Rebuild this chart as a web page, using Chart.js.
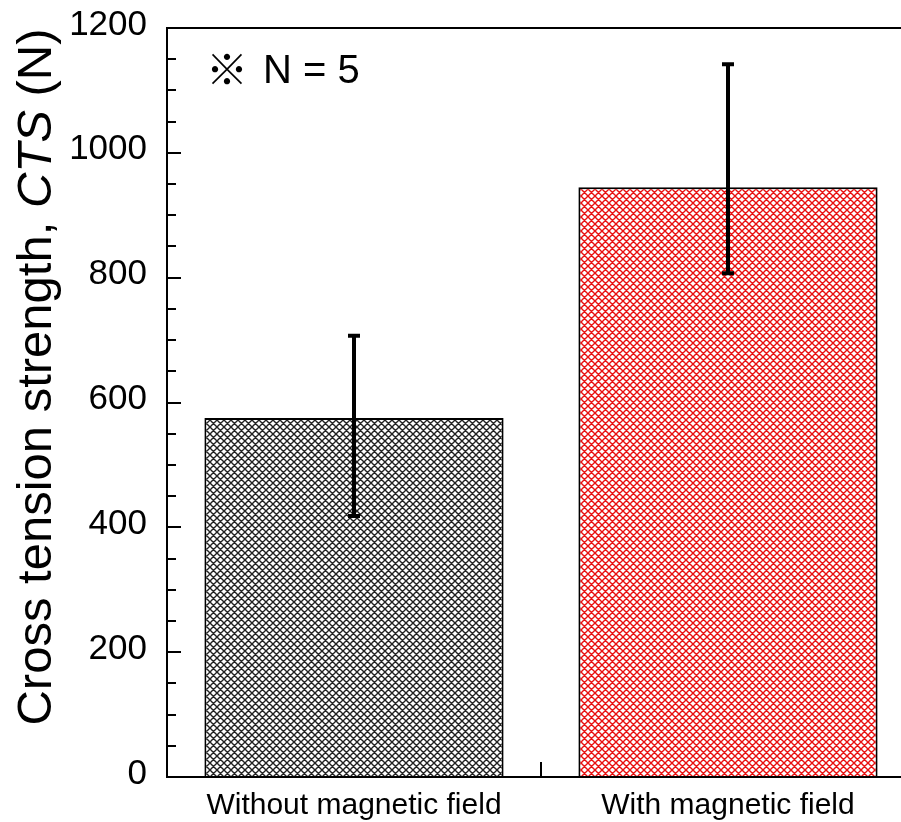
<!DOCTYPE html>
<html>
<head>
<meta charset="utf-8">
<script src="https://cdn.jsdelivr.net/npm/chart.js@4/dist/chart.umd.min.js"></script>
<style>
  html, body { margin: 0; padding: 0; background: #fff; overflow: hidden; width: 901px; height: 822px; }
  canvas { display: block; }
</style>
</head>
<body>
<canvas id="cts" width="930" height="822"></canvas>
<script>
// Cross tension strength of the joints, mean with min / max range (N = 5)
const categories = ['Without magnetic field', 'With magnetic field'];
const meanCTS = [575, 945];
const upperCTS = [707, 1142];
const lowerCTS = [418, 807];
const hatchColors = ['#222222', '#e81010'];

const yMin = 0;
const yMax = 1200;
const majorStep = 200;
const minorStep = 50;

const FONT = "'Liberation Sans', Arial, sans-serif";

const canvas = document.getElementById('cts');
const ctx = canvas.getContext('2d');

// Diagonal cross-hatch fill
function crossHatch(color) {
  const s = 7;
  const tile = document.createElement('canvas');
  tile.width = s; tile.height = s;
  const g = tile.getContext('2d');
  g.fillStyle = '#fff';
  g.fillRect(0, 0, s, s);
  g.strokeStyle = color;
  g.lineWidth = 1.4;
  g.beginPath();
  for (const k of [-s, 0, s]) {
    g.moveTo(k, 0); g.lineTo(k + s, s);
    g.moveTo(k + s, 0); g.lineTo(k, s);
  }
  g.stroke();
  return ctx.createPattern(tile, 'repeat');
}

function noPadding(s) {
  s.paddingTop = 0; s.paddingBottom = 0; s.paddingLeft = 0; s.paddingRight = 0;
}

const framePlugin = {
  id: 'frameAndDecor',
  afterDatasetsDraw(chart) {
    const { ctx, scales: { x, y } } = chart;
    ctx.save();
    // error bars
    ctx.strokeStyle = '#000';
    ctx.lineWidth = 4;
    ctx.lineCap = 'butt';
    for (let i = 0; i < categories.length; i++) {
      const cx = x.getPixelForValue(i);
      const yt = y.getPixelForValue(upperCTS[i]);
      const yb = y.getPixelForValue(lowerCTS[i]);
      ctx.beginPath();
      ctx.moveTo(cx, yt); ctx.lineTo(cx, yb);
      ctx.moveTo(cx - 6, yt); ctx.lineTo(cx + 6, yt);
      ctx.moveTo(cx - 6, yb); ctx.lineTo(cx + 6, yb);
      ctx.stroke();
    }
    ctx.restore();
  },
  afterDraw(chart) {
    const { ctx, chartArea: a, scales: { x, y } } = chart;
    ctx.save();
    ctx.strokeStyle = '#000';
    ctx.lineWidth = 2;
    ctx.strokeRect(a.left, a.top, a.right - a.left, a.bottom - a.top);

    // inward ticks on the value axis
    ctx.beginPath();
    for (let v = yMin; v <= yMax; v += minorStep) {
      const py = Math.round(y.getPixelForValue(v));
      const len = v % majorStep === 0 ? 14 : 9;
      ctx.moveTo(a.left, py); ctx.lineTo(a.left + len, py);
    }
    // tick between the two categories
    for (let i = 0; i < categories.length - 1; i++) {
      const px = Math.round((x.getPixelForValue(i) + x.getPixelForValue(i + 1)) / 2);
      ctx.moveTo(px, a.bottom); ctx.lineTo(px, a.bottom - 15);
    }
    ctx.stroke();

    // value axis title with italic symbol
    const parts = [
      { t: 'Cross tension strength, ', f: `49px ${FONT}` },
      { t: 'CTS', f: `italic 49px ${FONT}` },
      { t: ' (N)', f: `49px ${FONT}` }
    ];
    let total = 0;
    for (const p of parts) { ctx.font = p.f; p.w = ctx.measureText(p.t).width; total += p.w; }
    ctx.translate(51, 377);
    ctx.rotate(-Math.PI / 2);
    ctx.fillStyle = '#000';
    ctx.textBaseline = 'alphabetic';
    ctx.textAlign = 'left';
    let cx = -total / 2;
    for (const p of parts) { ctx.font = p.f; ctx.fillText(p.t, cx, 0); cx += p.w; }
    ctx.setTransform(1, 0, 0, 1, 0, 0);

    // sample size note
    ctx.fillStyle = '#000';
    ctx.textBaseline = 'alphabetic';
    ctx.textAlign = 'left';
    ctx.font = "42px 'Noto Sans CJK JP', 'DejaVu Sans', sans-serif";
    ctx.fillText('※', a.left + 39, a.top + 57);
    ctx.font = `40px ${FONT}`;
    ctx.fillText('N = 5', a.left + 96, a.top + 55);
    ctx.restore();
  }
};

new Chart(ctx, {
  type: 'bar',
  data: {
    labels: categories,
    datasets: [{
      data: meanCTS,
      backgroundColor: hatchColors.map(crossHatch),
      borderColor: '#000',
      borderWidth: 2,
      barPercentage: 0.8,
      categoryPercentage: 1.0
    }]
  },
  options: {
    responsive: false,
    animation: false,
    devicePixelRatio: 1,
    layout: { padding: { top: 28, right: 15, left: 0, bottom: 0 } },
    plugins: { legend: { display: false }, tooltip: { enabled: false } },
    scales: {
      x: {
        grid: { display: false, drawTicks: false },
        border: { display: false },
        ticks: { color: '#000', font: { family: FONT, size: 30 }, padding: 11, maxRotation: 0 },
        afterFit(s) { s.height = 45; noPadding(s); }
      },
      y: {
        min: yMin,
        max: yMax,
        grid: { display: false, drawTicks: false },
        border: { display: false },
        ticks: {
          stepSize: majorStep,
          color: '#000',
          font: { family: FONT, size: 35 },
          padding: 20,
          labelOffset: -3,
          callback: (v) => String(v)
        },
        afterFit(s) { s.width = 167; noPadding(s); }
      }
    }
  },
  plugins: [framePlugin]
});
</script>
</body>
</html>
